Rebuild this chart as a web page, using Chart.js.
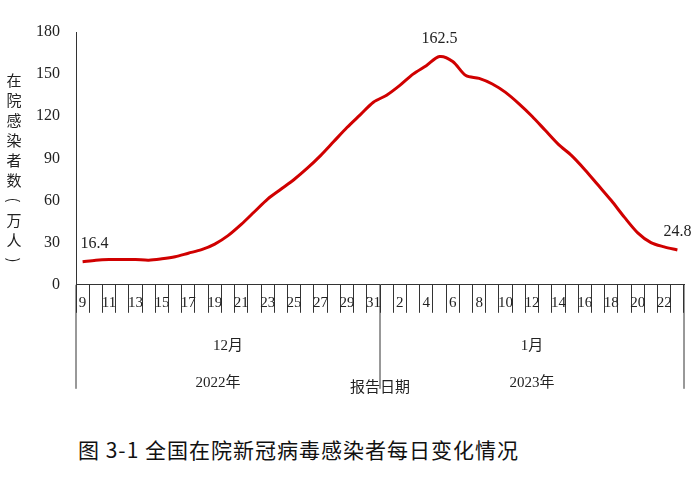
<!DOCTYPE html>
<html><head><meta charset="utf-8">
<script src="https://cdn.jsdelivr.net/npm/chart.js@4"></script>
<style>
body{margin:0;background:#fff;font-family:"Noto Sans CJK SC","Liberation Serif",serif;}
#wrap{width:700px;height:430px;position:relative;}
#title{position:absolute;top:434px;left:78px;font-size:21px;color:#111;font-family:"Noto Sans CJK SC";letter-spacing:1px;}
</style></head><body>
<div id="wrap"><canvas id="c"></canvas></div>
<div id="title">图 3-1 全国在院新冠病毒感染者每日变化情况</div>
<script>
const decDays = [9,10,11,12,13,14,15,16,17,18,19,20,21,22,23,24,25,26,27,28,29,30,31];
const janDays = [1,2,3,4,5,6,7,8,9,10,11,12,13,14,15,16,17,18,19,20,21,22,23];
const decValues = [16.4,17.5,18,18,18,17.5,18.5,20,22.5,25,29,35,43,52,61,68,75,83,92,102,112,121,130];
const janValues = [135,142,150,156,162.5,159,149,147,143,137,129,120,110,100,92,82,71,60,48,37,30,27,24.8];
const yTicks = [0,30,60,90,120,150,180];
const labels = decDays.map(d => '12-' + d).concat(janDays.map(d => '1-' + d));
const values = decValues.concat(janValues);
const annotate = {0: '16.4', 27: '162.5', 45: '24.8'};

function dayLabel(i) {
  const day = +labels[i].split('-')[1];
  if (i < decDays.length) return day % 2 === 1 ? String(day) : '';
  return day % 2 === 0 ? String(day) : '';
}

const extras = {
  id: 'extras',
  afterDraw(chart) {
    const ctx = chart.ctx, x = chart.scales.x, y = chart.scales.y;
    const half = (x.getPixelForValue(1) - x.getPixelForValue(0)) / 2;
    const bottom = y.bottom;
    const left = x.getPixelForValue(0) - half;
    const mid = x.getPixelForValue(decDays.length) - half;
    const right = x.getPixelForValue(labels.length - 1) + half;
    ctx.save();
    ctx.strokeStyle = '#333'; ctx.lineWidth = 1;
    [left, mid, right].forEach(px => {
      ctx.beginPath(); ctx.moveTo(px, bottom); ctx.lineTo(px, bottom + 104); ctx.stroke();
    });
    ctx.fillStyle = '#222';
    ctx.textAlign = 'center'; ctx.textBaseline = 'middle';
    ctx.font = '15px "Liberation Serif"';
    labels.forEach((l, i) => {
      const t = dayLabel(i);
      if (t) ctx.fillText(t, x.getPixelForValue(i), bottom + 18);
    });
    ctx.font = '15px "Liberation Serif","Noto Sans CJK SC"';
    ctx.fillText('12月', (left + mid) / 2, bottom + 61);
    ctx.fillText('1月', (mid + right) / 2, bottom + 61);
    ctx.fillText('2022年', (left + mid) / 2 - 10, bottom + 98);
    ctx.fillText('2023年', (mid + right) / 2, bottom + 98);
    ctx.fillText('报告日期', mid, bottom + 103);
    const chars = '在院感染者数（万人）'.split('');
    ctx.font = '15px "Noto Sans CJK SC"';
    chars.forEach((ch, i) => {
      if (ch === '（' || ch === '）') {
        ctx.save(); ctx.translate(14, 80 + i * 20); ctx.rotate(Math.PI / 2);
        ctx.fillText(ch === '（' ? '(' : ')', 0, 0); ctx.restore();
      } else ctx.fillText(ch, 14, 80 + i * 20);
    });
    ctx.font = '16px "Liberation Serif"';
    Object.keys(annotate).forEach(k => {
      const i = +k;
      ctx.fillText(annotate[k], x.getPixelForValue(i) + (i === 0 ? 12 : 0), y.getPixelForValue(values[i]) - 18);
    });
    ctx.restore();
  }
};

new Chart(document.getElementById('c'), {
  type: 'line',
  data: { labels: labels, datasets: [{ data: values, borderColor: '#d00000', borderWidth: 3, pointRadius: 0, tension: 0.3, fill: false }] },
  options: {
    responsive: true, maintainAspectRatio: false, animation: false,
    layout: { padding: { left: 28, right: 16, top: 32, bottom: 116 } },
    plugins: { legend: { display: false }, tooltip: { enabled: false } },
    scales: {
      x: {
        offset: true,
        grid: { offset: true, drawOnChartArea: false, color: '#333', tickLength: 28, tickColor: '#333' },
        border: { color: '#333' },
        ticks: { autoSkip: false, maxRotation: 0, padding: 0, font: { size: 1 }, callback: () => '' }
      },
      y: {
        min: 0, max: 180,
        afterBuildTicks: s => { s.ticks = yTicks.map(v => ({ value: v })); },
        grid: { display: false },
        border: { color: '#333' },
        ticks: { color: '#222', font: { family: 'Liberation Serif', size: 16 }, padding: 8 }
      }
    }
  },
  plugins: [extras]
});
</script>
</body></html>
